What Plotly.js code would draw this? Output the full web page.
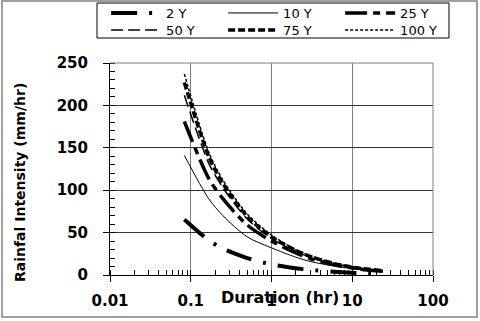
<!DOCTYPE html>
<html>
<head>
<meta charset="utf-8">
<script src="https://cdn.plot.ly/plotly-3.0.1.min.js"></script>
<style>
  html, body { margin: 0; padding: 0; background: #ffffff; }
  #chart { width: 480px; height: 321px; }
</style>
</head>
<body>
<div id="chart"></div>
<script>
// duration in hours (5 min ... 24 hr)
var durations = [0.0833, 0.1667, 0.25, 0.5, 1, 2, 3, 6, 12, 24];

// rainfall intensity (mm/hr) for each return period
var y2   = [65.5, 41, 31, 20, 12.5, 8, 6, 3.8, 2.3, 1.5];
var y10  = [141, 90, 70, 45, 32, 21, 16, 10.5, 6.4, 3.9];
var y25  = [181, 114, 90, 59, 40, 26, 19.5, 12, 7.2, 4.4];
var y50  = [212, 132, 103, 66, 43, 28, 21, 13, 7.8, 4.8];
var y75  = [227, 140, 108, 69, 45, 29, 22, 13.5, 8.2, 5];
var y100 = [237, 145, 112, 72, 47, 30, 23, 14, 8.5, 5.2];

var seriesNames = ["2 Y", "10 Y", "25 Y", "50 Y", "75 Y", "100 Y"];
var tickVals = [0.01, 0.1, 1, 10, 100];
var tickText = ["0.01", "0.1", "1", "10", "100"];

// line style for each series (same order as names)
var styles = [
  {width: 4,   dash: "26px,12px,3px,12px"},
  {width: 1,   dash: "solid"},
  {width: 3.5, dash: "22px,6px,7px,6px"},
  {width: 1.5, dash: "12px,5px"},
  {width: 3.5, dash: "7px,3px"},
  {width: 1.5, dash: "3px,2px"}
];

var allY = [y2, y10, y25, y50, y75, y100];
var plot_data = [];
for (var i = 0; i < allY.length; i++) {
  plot_data.push({
    type: "scatter",
    mode: "lines",
    name: seriesNames[i],
    legend: i < 3 ? "legend" : "legend2", // first row / second row of the legend box
    x: durations,
    y: allY[i],
    line: {color: "#000000", width: styles[i].width, dash: styles[i].dash, shape: "spline", smoothing: 0.8}
  });
}

// common legend row settings
function legendRow(yPos) {
  return {
    orientation: "h",
    x: -0.012, xanchor: "left",
    y: yPos, yanchor: "top",
    bgcolor: "rgba(0,0,0,0)",
    borderwidth: 0,
    itemwidth: 50,
    entrywidth: 52,
    entrywidthmode: "pixels",
    font: {family: "DejaVu Sans", size: 13, color: "#000000"}
  };
}

var layout = {
  width: 480,
  height: 321,
  margin: {l: 110, r: 47, t: 63, b: 46, autoexpand: false},
  paper_bgcolor: "#ffffff",
  plot_bgcolor: "#ffffff",
  font: {family: "DejaVu Sans", size: 13, color: "#000000"},
  showlegend: true,
  legend: legendRow(1.3066),
  legend2: legendRow(1.2264),
  xaxis: {
    type: "log",
    range: [-2, 2],
    tickvals: tickVals,
    ticktext: tickText,
    showline: true, linecolor: "#000000", linewidth: 1,
    showgrid: true, gridcolor: "#808080", gridwidth: 1,
    ticks: "outside", ticklen: 6, tickcolor: "#000000",
    ticklabelstandoff: 6,
    minor: {ticks: "inside", ticklen: 5, tickcolor: "#000000", dtick: "D1", showgrid: false},
    tickfont: {family: "DejaVu Sans", size: 15, weight: "bold", color: "#000000"},
    zeroline: false
  },
  yaxis: {
    range: [0, 250],
    dtick: 50,
    showline: true, linecolor: "#000000", linewidth: 1,
    showgrid: true, gridcolor: "#333333", gridwidth: 1,
    ticks: "outside", ticklen: 6, tickcolor: "#000000",
    ticklabelstandoff: 12,
    minor: {ticks: "inside", ticklen: 5, tickcolor: "#000000", dtick: 10, showgrid: false},
    tickfont: {family: "DejaVu Sans", size: 15, weight: "bold", color: "#000000"},
    zeroline: false
  },
  shapes: [
    // top and right border of plot area
    {type: "line", xref: "paper", yref: "paper", x0: 0, x1: 1, y0: 1, y1: 1, line: {color: "#808080", width: 1}},
    {type: "line", xref: "paper", yref: "paper", x0: 1, x1: 1, y0: 0, y1: 1, line: {color: "#808080", width: 1}},
    // outer frame
    {type: "rect", xref: "paper", yref: "paper", x0: -0.3344, x1: 1.1362, y0: -0.1981, y1: 1.2925,
     line: {color: "#808080", width: 1.5}},
    // legend box
    {type: "rect", xref: "paper", yref: "paper", x0: -0.0402, x1: 1.0495, y0: 1.1179, y1: 1.283,
     line: {color: "#000000", width: 1}}
  ],
  annotations: [
    {text: "Duration (hr)", xref: "paper", yref: "paper", x: 0.5263, y: -0.1038,
     xanchor: "center", yanchor: "middle", showarrow: false,
     font: {family: "DejaVu Sans", size: 16, weight: "bold", color: "#000000"}},
    {text: "Rainfal Intensity (mm/hr)", xref: "paper", yref: "paper", x: -0.2786, y: 0.434,
     xanchor: "center", yanchor: "middle", textangle: -90, showarrow: false,
     font: {family: "DejaVu Sans", size: 14, weight: "bold", color: "#000000"}}
  ]
};

Plotly.newPlot("chart", plot_data, layout, {staticPlot: true});
</script>
</body>
</html>
